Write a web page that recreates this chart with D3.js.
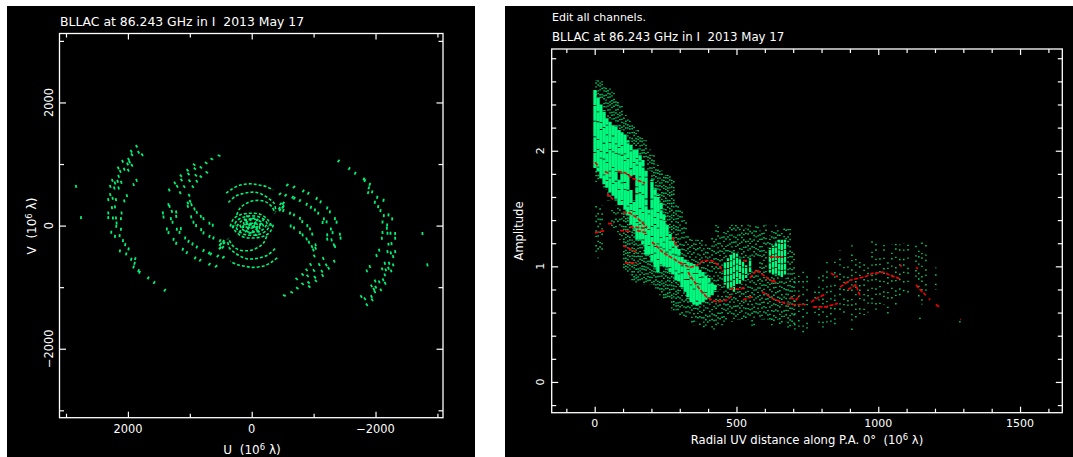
<!DOCTYPE html>
<html>
<head>
<meta charset="utf-8">
<style>
  html, body { margin: 0; padding: 0; background: #fff; }
  svg { display: block; }
  text { font-family: "DejaVu Sans", sans-serif; fill: #fff; font-size: 11px; }
  .axis path { stroke: none; }
  .axis line { stroke: #fff; stroke-width: 1.2; }
</style>
<script src="https://cdn.jsdelivr.net/npm/d3@7"></script>
</head>
<body>
<script>
var titleText = "BLLAC at 86.243 GHz in I  2013 May 17";
var editText = "Edit all channels.";

// UV plane ticks (10^6 lambda)
var uvMajor = [-2000, 0, 2000];
var uvMinor = [-3000, -1000, 1000, 3000];
// radial plot ticks
var radialMajor = [0, 500, 1000, 1500];
var radialMinor = [-100, 100, 200, 300, 400, 600, 700, 800, 900, 1100, 1200, 1300, 1400, 1600];
var ampMajor = [0, 1, 2];
var ampMinor = [-0.2, 0.2, 0.4, 0.6, 0.8, 1.2, 1.4, 1.6, 1.8, 2.2, 2.4, 2.6, 2.8];

// single [u, v] samples, the conjugates get added when drawn
var uvOuter = [[-1403,1050],[-1575,926],[-1672,850],[-1812,758],[-1828,731],[-1908,671],[-1892,612],[-1946,547],[-1881,536],[-2027,460],[-1989,379],[-2129,412],[-2043,309],[-2080,244],[-2134,163],[-2209,174],[-2269,109],[-2188,11],[-2183,-43],[-2113,60],[-2113,-113],[-2193,-124],[-2242,-124],[-2317,-129],[-2102,-205],[-2317,-205],[-2258,-292],[-2209,-303],[-2059,-400],[-2016,-486],[-2193,-422],[-2247,-443],[-2317,-422],[-2285,-503],[-1908,-665],[-1860,-735],[-2150,-611],[-2220,-611],[-2285,-638],[-2107,-703],[-2166,-719],[-2209,-692],[-2252,-735],[-2150,-800],[-2123,-881],[-1994,-898],[-2059,-914],[-2156,-936],[-1935,-979],[-2005,-1000],[-1973,-1033],[-2086,-1044],[-1989,-1076],[-1769,-1152],[-1828,-1190],[-1935,-1152],[-1946,-1206],[-1860,-1287],[-2758,-129],[-2838,-638]];
var uvMiddle = [[-527,-1136],[-645,-1082],[-736,-1017],[-822,-946],[-930,-990],[-1037,-898],[-919,-925],[-726,-865],[-822,-795],[-903,-816],[-1021,-838],[-1145,-811],[-887,-719],[-1005,-730],[-1134,-741],[-1242,-692],[-951,-633],[-1091,-633],[-1204,-638],[-1156,-535],[-1333,-578],
  [-575,660],[-683,628],[-833,563],[-914,525],[-1048,439],[-1113,385],[-1220,287],[-1263,222],[-1344,114],[-1371,55],[-1425,-140],[-1435,-205],
  [-457,514],[-548,493],[-661,460],[-688,444],[-779,406],[-887,347],[-957,298],[-1021,255],[-1075,201],[-1166,109],[-1145,49],[-1210,60],[-1279,-54],[-1306,-113],[-1220,-151],[-1220,-221],[-1290,-232],[-1328,-313],[-1344,-340],
  [-618,201],[-683,174],[-779,119],[-817,65],[-898,0],[-941,-54],[-978,-140],[-1032,-313],[-1032,-367],[-973,-340],
  [-629,-5],[-683,-37],[-779,-113],[-822,-151],[-887,-216],[-925,-270],[-1011,-492],[-995,-395],
  [-511,363],[-511,309],[-446,282],[-511,244],[-467,353],[-510,364],[-500,299],[-457,255]];
var uvCentre = [[108,93],[81,39],[54,-42],[-53,39],[27,93],[135,-15],[189,-96],[-80,-69],[-26,120],[40,10],[-20,-20],[70,150],[-90,90]];

// inner baselines, dashed tracks through read points
var uvTrack1 = [[414,526],[323,591],[215,650],[108,672],[0,678],[-107,661],[-231,634],[-349,580]];
var uvTrack2 = [[377,374],[269,472],[162,515],[54,537],[-53,542],[-161,510],[-268,445],[-360,364],[-392,228]];
var uvTrack3 = [[242,174],[189,283],[81,364],[-53,407],[-215,391],[-322,310],[-376,201]];
var uvTrack4 = [[350,-15],[296,104],[189,174],[27,201],[-134,185],[-252,104],[-322,-4]];
var uvTrack5 = [[307,-42],[242,77],[135,136],[0,158],[-134,136],[-231,66],[-268,-15]];
var uvTrack6 = [[242,-15],[178,66],[70,104],[-53,104],[-161,50],[-198,-42]];
var uvTrack7 = [[162,-42],[108,12],[0,39],[-107,12],[-134,-69]];
var uvTracks = [uvTrack1, uvTrack2, uvTrack3, uvTrack4, uvTrack5, uvTrack6, uvTrack7];

// solid part of the amplitude cloud: [radius, low, high]
var ampSolid = [[1,1.85,2.53],[12,1.82,2.46],[22,1.76,2.40],[33,1.71,2.35],[43,1.68,2.28],[54,1.64,2.25],[65,1.61,2.22],[75,1.57,2.21],[86,1.82,2.18],[86,1.53,1.75],[96,1.53,2.16],[107,1.49,2.14],[117,1.44,2.09],[128,1.78,2.05],[128,1.36,1.66],[139,1.79,2.01],[139,1.31,1.57],[149,1.23,2.01],[160,1.23,1.96],[170,1.19,1.92],[181,1.10,1.83],[191,1.10,1.49],[202,1.04,1.75],[213,0.99,1.68],[223,0.95,1.62],[234,1.00,1.55],[244,1.00,1.45],[255,0.99,1.36],[266,0.95,1.28],[276,0.93,1.22],[287,0.88,1.18],[297,0.87,1.15],[308,0.82,1.08],[319,0.78,1.06],[329,0.72,1.04],[340,0.69,1.03],[350,0.67,1.02],[361,0.66,1.00],[371,0.67,0.97],[382,0.69,0.95],[392,0.71,0.92],[403,0.73,0.90],[414,0.75,0.86],[424,0.78,0.84],
  [459,0.84,1.04],[470,0.81,1.07],[481,0.80,1.10],[491,0.78,1.12],[502,0.84,1.11],[512,0.85,1.07],[523,0.88,1.04],[534,0.90,1.01],[548,0.95,1.07],
  [618,0.95,1.16],[629,0.93,1.18],[639,0.92,1.20],[650,0.92,1.23],[660,0.90,1.23],[671,0.93,1.23]];

// sparse part of the cloud: [radius, low, high]
var ampSparse = [[5,2.48,2.61],[5,1.73,1.83],[5,1.07,1.53],[19,2.44,2.61],[19,1.14,1.53],[33,2.35,2.57],[33,1.66,1.70],[47,2.28,2.54],[47,1.57,1.66],[61,2.27,2.51],[61,1.31,1.49],[75,2.21,2.44],[75,1.27,1.53],[89,2.18,2.40],[89,1.23,1.53],[103,2.16,2.31],[103,0.97,1.49],[117,2.09,2.27],[117,0.93,1.44],[132,2.05,2.22],[132,0.88,1.36],[146,2.01,2.18],[146,0.86,1.23],[160,1.96,2.14],[160,0.88,1.23],[174,1.92,2.09],[174,0.84,1.19],[188,1.83,2.01],[188,0.84,1.10],[202,1.75,1.96],[202,0.84,1.04],[216,1.62,1.88],[216,0.80,0.99],[230,1.49,1.83],[230,0.75,0.95],[244,1.31,1.79],[244,0.71,1.04],[258,1.23,1.79],[258,0.71,0.99],[272,1.19,1.75],[272,0.62,0.95],[287,1.14,1.53],[287,0.62,0.88],[301,1.10,1.49],[301,0.58,0.87],[315,1.05,1.40],[315,0.55,0.80],[329,0.99,1.27],[329,0.55,0.76],[343,0.95,1.23],[343,0.49,0.73],[357,0.93,1.23],[357,0.52,0.69],[371,0.88,1.23],[371,0.49,0.67],[385,0.86,1.19],[385,0.47,0.71],[399,0.84,1.19],[399,0.48,0.71],[414,0.80,1.27],[414,0.45,0.73],[428,0.78,1.36],[428,0.47,0.75],[442,0.80,1.27],[442,0.49,0.75],[456,1.04,1.31],[456,0.52,0.84],[470,1.07,1.36],[470,0.55,0.81],[484,1.10,1.36],[484,0.52,0.80],[498,1.12,1.36],[498,0.54,0.80],[512,1.07,1.36],[512,0.54,0.85],[526,1.04,1.33],[526,0.55,0.88],[541,1.07,1.36],[541,0.54,0.95],[555,1.07,1.31],[555,0.47,0.97],[569,1.05,1.36],[569,0.57,1.01],[583,0.54,1.31],[597,0.54,1.36],[611,1.16,1.27],[611,0.54,0.95],[625,1.18,1.31],[625,0.49,0.93],[639,1.20,1.36],[639,0.54,0.92],[653,1.23,1.31],[653,0.49,0.90],[668,1.23,1.33],[668,0.52,0.90],[682,0.45,1.33],[696,0.49,1.14],[706,0.45,0.97],[720,0.43,0.97],[735,0.43,0.99],[749,0.45,0.97],[777,0.54,0.80],[791,0.47,0.93],[805,0.45,0.97],[819,0.45,1.05],[833,0.47,0.88],[847,0.47,1.04],[865,0.55,1.14],[879,0.54,1.01],[893,0.62,1.05],[907,0.45,1.19],[921,0.49,1.07],[935,0.54,1.10],[950,0.58,1.04],[964,0.60,1.01],[978,0.62,1.25],[992,0.62,1.23],[1006,0.67,1.10],[1020,0.67,1.19],[1034,0.58,1.05],[1048,0.71,1.19],[1062,0.67,1.23],[1076,0.73,1.19],[1090,0.84,1.20],[1105,0.75,1.19],[1133,0.88,1.19],[1143,0.71,1.14],[1154,0.67,1.23],[1168,0.75,1.20],[1203,0.80,0.99]];
var ampStray = [[1147,0.55],[1288,0.52],[1090,0.79]];

// model amplitudes (red)
var modelTracks = [
  [[1,1.90],[12,1.87]],
  [[36,1.82],[54,1.80]],
  [[82,1.82],[107,1.81],[135,1.76],[177,1.72]],
  [[43,1.63],[65,1.58]],
  [[100,1.47],[124,1.46],[149,1.42],[184,1.34]],
  [[47,1.37],[68,1.37]],
  [[124,1.34],[184,1.33]],
  [[1,1.29],[36,1.31]],
  [[89,1.31],[124,1.30]],
  [[149,1.31],[184,1.29]],
  [[100,1.18],[124,1.15],[149,1.12]],
  [[107,1.03],[149,1.03]],
  [[202,1.21],[220,1.17],[241,1.12],[301,1.03]],
  [[273,1.25],[294,1.16]],
  [[301,1.03],[336,0.99],[361,1.01],[382,1.05],[413,1.05],[442,1.00],[452,0.95]],
  [[329,0.95],[347,0.88],[371,0.80],[396,0.73],[431,0.69],[466,0.71],[487,0.75]],
  [[523,0.71],[558,0.74]],
  [[477,0.81],[512,0.80],[530,0.82]],
  [[523,1.05],[541,1.05]],
  [[548,0.90],[572,0.97],[607,0.90],[636,0.86]],
  [[590,0.78],[629,0.72],[671,0.68],[689,0.67],[745,0.67]],
  [[618,1.08],[664,1.08]],
  [[629,0.88],[639,0.86]],
  [[689,0.73],[710,0.71],[724,0.75]],
  [[763,0.69],[780,0.72],[815,0.76]],
  [[770,0.65],[815,0.65],[858,0.68]],
  [[833,0.94],[858,0.91]],
  [[865,0.82],[900,0.88],[953,0.91],[981,0.94],[1017,0.95],[1045,0.92],[1080,0.89]],
  [[893,0.80],[921,0.84],[935,0.75]],
  [[1076,1.01],[1083,1.00]],
  [[1133,0.99],[1140,0.98]],
  [[1133,0.84],[1147,0.80],[1168,0.75]],
  [[1179,0.72],[1183,0.71]],
  [[1203,0.67],[1214,0.65]],
  [[1288,0.54],[1291,0.54]]
];

var green = "#00f078";
var greenDim = "#00e070";
var greenBright = "#00fa80";
var red = "#f00000";

// dot patterns for the sparse columns, near the bright band to far out
var dashNear = ["1.4 1.4 1.4 3.5 1.4 2.5", "1.4 2.5 1.4 1.4 1.4 4.5", "1.4 3.5 1.4 1.6"];
var dashMid = ["1.4 3 1.4 6 1.4 4", "1.4 4 1.4 7", "1.4 6 1.4 3 1.4 3"];
var dashFar = ["1.4 4 1.4 8 1.4 6", "1.4 7 1.4 3 1.4 9", "1.4 8 1.4 4"];
var dashSolid = ["15 0.8", "9 0.8 17 0.8", "21 0.8 6 0.8"];

window.onload = setPage();

function setPage(){

  var svg = d3.select("body").append("svg")
    .attr("width", 1073)
    .attr("height", 457);

  svg.append("rect").attr("x", 7).attr("y", 6).attr("width", 468).attr("height", 451).attr("fill", "#000");
  svg.append("rect").attr("x", 505).attr("y", 6).attr("width", 568).attr("height", 451).attr("fill", "#000");

  drawUvPanel(svg);
  drawAmpPanel(svg);
};

// frame with inward ticks on all four sides
function setFrame(svg, x, y, xMajor, xMinor, yMajor, yMinor){

  var x0 = x.range()[0], x1 = x.range()[1],
      y0 = y.range()[0], y1 = y.range()[1];

  function addAxis(axis, dx, dy, values, size){
    return svg.append("g")
      .attr("class", "axis")
      .attr("transform", "translate(" + dx + "," + dy + ")")
      .call(axis.tickValues(values).tickSize(size).tickFormat(""));
  };

  [[xMajor, 6], [xMinor, 4]].forEach(function(t){
    addAxis(d3.axisBottom(x), 0, y0, t[0], -t[1]);
    addAxis(d3.axisTop(x), 0, y1, t[0], -t[1]);
  });
  [[yMajor, 6.5], [yMinor, 4.5]].forEach(function(t){
    addAxis(d3.axisLeft(y), x0, 0, t[0], -t[1]);
    addAxis(d3.axisRight(y), x1, 0, t[0], -t[1]);
  });

  svg.append("rect")
    .attr("x", x0)
    .attr("y", y1)
    .attr("width", x1 - x0)
    .attr("height", y0 - y1)
    .attr("fill", "none")
    .attr("stroke", "#fff")
    .attr("stroke-width", 1.3);
};

// the 10^6 lambda label needs a raised exponent
function addUnitLabel(sel, before){
  sel.append("tspan").text(before + "(10");
  sel.append("tspan").attr("dy", -4.5).style("font-size", "8.5px").text("6");
  sel.append("tspan").attr("dy", 4.5).text(" \u03bb)");
};

function addLeftLabels(svg, y, values, lx, size, format){
  svg.selectAll(null)
    .data(values)
    .enter()
    .append("text")
    .attr("text-anchor", "middle")
    .style("font-size", size + "px")
    .attr("transform", function(d){
      return "translate(" + lx + "," + y(d) + ") rotate(-90)";
    })
    .text(format);
};

function addBottomLabels(svg, x, values, ly, size, format){
  svg.selectAll(null)
    .data(values)
    .enter()
    .append("text")
    .attr("text-anchor", "middle")
    .style("font-size", size + "px")
    .attr("x", function(d){ return x(d); })
    .attr("y", ly)
    .text(format);
};

function uvFormat(d){
  return d < 0 ? "\u2212" + Math.abs(d) : String(d);
};

function drawUvPanel(svg){

  var x = d3.scaleLinear().domain([3105, -3090]).range([59.5, 443]),
      y = d3.scaleLinear().domain([-3120, 3120]).range([417.7, 33.5]);

  var conjugate = function(d){ return [-d[0], -d[1]]; };

  var samples = uvOuter.concat(uvMiddle, uvCentre);
  samples = samples.concat(samples.map(conjugate));

  var tracks = uvTracks.concat(uvTracks.map(function(t){ return t.map(conjugate); }));

  var line = d3.line()
    .x(function(d){ return x(d[0]); })
    .y(function(d){ return y(d[1]); })
    .curve(d3.curveCatmullRom);

  svg.append("g").selectAll("path")
    .data(tracks)
    .enter()
    .append("path")
    .attr("d", line)
    .attr("fill", "none")
    .attr("stroke", green)
    .attr("stroke-width", 1.6)
    .attr("stroke-dasharray", "3 2");

  // each sample is a short dash lying across its radius, like the integration smear
  function dashEnd(d, sign){
    var len = Math.sqrt(d[0] * d[0] + d[1] * d[1]) || 1;
    return [x(d[0]) + sign * 1.5 * d[1] / len, y(d[1]) + sign * 1.5 * d[0] / len];
  };

  svg.append("g").selectAll("line")
    .data(samples)
    .enter()
    .append("line")
    .attr("x1", function(d){ return dashEnd(d, -1)[0]; })
    .attr("y1", function(d){ return dashEnd(d, -1)[1]; })
    .attr("x2", function(d){ return dashEnd(d, 1)[0]; })
    .attr("y2", function(d){ return dashEnd(d, 1)[1]; })
    .attr("stroke", green)
    .attr("stroke-width", 1.8);

  setFrame(svg, x, y, uvMajor, uvMinor, uvMajor, uvMinor);

  addLeftLabels(svg, y, uvMajor, 53, 11.4, uvFormat);
  addBottomLabels(svg, x, uvMajor, 433, 11.4, uvFormat);

  svg.append("text")
    .attr("x", 60)
    .attr("y", 26)
    .style("font-size", "12.4px")
    .style("white-space", "pre")
    .text(titleText);

  svg.append("text")
    .attr("x", 252)
    .attr("y", 454)
    .attr("text-anchor", "middle")
    .style("font-size", "12px")
    .style("white-space", "pre")
    .call(addUnitLabel, "U  ");

  svg.append("text")
    .attr("text-anchor", "middle")
    .attr("transform", "translate(36,226) rotate(-90)")
    .style("font-size", "12px")
    .style("white-space", "pre")
    .call(addUnitLabel, "V  ");
};

function drawAmpPanel(svg){

  var x = d3.scaleLinear().domain([-151.6, 1649]).range([551.7, 1062.3]),
      y = d3.scaleLinear().domain([-0.266, 2.88]).range([412.7, 49]);

  function sparseDash(d, i){
    // few dots under the band at the shortest spacings
    if (d[0] < 100 && d[2] < 1.6) return dashFar[i % 3];
    var list = d[0] < 300 ? dashNear : d[0] < 700 ? dashMid : dashFar;
    return list[i % 3];
  };

  // sparse columns drawn twice, two pixels apart, out to the edge of the bright band
  [0, 2].forEach(function(shift, s){
    svg.append("g")
      .selectAll("line")
      .data(s == 0 ? ampSparse : ampSparse.filter(function(d){ return d[0] < 700; }))
      .enter()
      .append("line")
      .attr("x1", function(d){ return x(d[0]) + shift; })
      .attr("x2", function(d){ return x(d[0]) + shift; })
      .attr("y1", function(d){ return y(d[1]); })
      .attr("y2", function(d){ return y(d[2]); })
      .attr("stroke", greenDim)
      .attr("stroke-width", 1.4)
      .attr("stroke-dasharray", function(d, i){ return sparseDash(d, i + s); })
      .attr("stroke-dashoffset", function(d, i){ return (i * 7 + s * 3) % 11; });
  });

  svg.append("g")
    .selectAll("line")
    .data(ampSolid)
    .enter()
    .append("line")
    .attr("x1", function(d){ return x(d[0]); })
    .attr("x2", function(d){ return x(d[0]); })
    .attr("y1", function(d){ return y(d[1]); })
    .attr("y2", function(d){ return y(d[2]); })
    .attr("stroke", greenBright)
    .attr("stroke-width", function(d){ return d[0] < 430 ? 3.3 : 2.4; })
    .attr("stroke-dasharray", function(d, i){ return d[0] < 430 ? dashSolid[i % 3] : "6 0.8"; })
    .attr("stroke-dashoffset", function(d, i){ return (i * 5) % 9; });

  svg.append("g").selectAll("circle")
    .data(ampStray)
    .enter()
    .append("circle")
    .attr("cx", function(d){ return x(d[0]); })
    .attr("cy", function(d){ return y(d[1]); })
    .attr("r", 0.8)
    .attr("fill", green);

  var line = d3.line()
    .x(function(d){ return x(d[0]); })
    .y(function(d){ return y(d[1]); });

  svg.append("g").selectAll("path")
    .data(modelTracks)
    .enter()
    .append("path")
    .attr("d", line)
    .attr("fill", "none")
    .attr("stroke", red)
    .attr("stroke-width", 1.7)
    .attr("stroke-dasharray", "4 1.5");

  setFrame(svg, x, y, radialMajor, radialMinor, ampMajor, ampMinor);

  addLeftLabels(svg, y, ampMajor, 544, 11, String);
  addBottomLabels(svg, x, radialMajor, 427, 11, String);

  svg.append("text").attr("x", 552).attr("y", 21).text(editText);
  svg.append("text")
    .attr("x", 552)
    .attr("y", 41)
    .style("font-size", "11.8px")
    .style("white-space", "pre")
    .text(titleText);

  svg.append("text")
    .attr("transform", "translate(523,231) rotate(-90)")
    .attr("text-anchor", "middle")
    .style("font-size", "11.5px")
    .text("Amplitude");

  svg.append("text")
    .attr("x", 807)
    .attr("y", 444)
    .attr("text-anchor", "middle")
    .style("font-size", "11.6px")
    .style("white-space", "pre")
    .call(addUnitLabel, "Radial UV distance along P.A. 0\u00b0  ");
};
</script>
</body>
</html>
